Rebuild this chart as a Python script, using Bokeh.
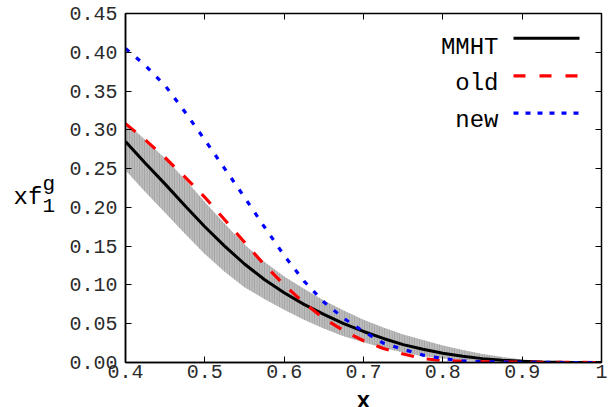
from bokeh.plotting import figure
from bokeh.layouts import row, column
from bokeh.models import Range1d, LinearAxis, FixedTicker, Label, ColumnDataSource
from bokeh.core.properties import value
from bokeh.embed import file_html
from bokeh.resources import INLINE

# ---------------- data ----------------
x_vals = [0.400, 0.425, 0.450, 0.475, 0.500, 0.525, 0.550, 0.575, 0.600, 0.625,
          0.650, 0.675, 0.700, 0.725, 0.750, 0.775, 0.800, 0.825, 0.850, 0.875,
          0.900, 0.925, 0.950, 0.975, 1.000]
mmht = [0.285, 0.257, 0.230, 0.202, 0.175, 0.150, 0.127, 0.107, 0.090, 0.075,
        0.062, 0.050, 0.040, 0.031, 0.023, 0.017, 0.012, 0.008, 0.005, 0.003,
        0.0015, 0.0007, 0.0003, 0.0001, 0.0]
mmht_hi = [0.310, 0.287, 0.263, 0.236, 0.207, 0.179, 0.152, 0.130, 0.111, 0.095,
           0.080, 0.067, 0.055, 0.045, 0.036, 0.029, 0.022, 0.016, 0.011, 0.007,
           0.004, 0.002, 0.001, 0.0003, 0.0]
mmht_lo = [0.248, 0.220, 0.193, 0.166, 0.140, 0.117, 0.097, 0.082, 0.068, 0.055,
           0.044, 0.034, 0.026, 0.019, 0.013, 0.008, 0.005, 0.003, 0.0015, 0.0008,
           0.0003, 0.0001, 0.0, 0.0, 0.0]
old = [0.308, 0.287, 0.264, 0.239, 0.213, 0.184, 0.155, 0.126, 0.100, 0.077,
       0.057, 0.041, 0.028, 0.018, 0.011, 0.005, 0.0025, 0.0015, 0.001, 0.0007,
       0.0005, 0.0003, 0.0002, 0.0001, 0.0]
new = [0.405, 0.383, 0.357, 0.323, 0.287, 0.250, 0.213, 0.175, 0.138, 0.105,
       0.078, 0.057, 0.040, 0.025, 0.017, 0.0095, 0.005, 0.002, 0.001, 0.0005,
       0.0002, 0.0001, 0.0, 0.0, 0.0]

series_names = ["MMHT", "old", "new"]
x_ticks = [0.4, 0.5, 0.6, 0.7, 0.8, 0.9, 1.0]
x_tick_labels = ["0.4", "0.5", "0.6", "0.7", "0.8", "0.9", "1"]
y_ticks = [0.0, 0.05, 0.10, 0.15, 0.20, 0.25, 0.30, 0.35, 0.40, 0.45]
y_tick_labels = ["0.00", "0.05", "0.10", "0.15", "0.20", "0.25", "0.30", "0.35", "0.40", "0.45"]
x_title = "x"
y_title_main, y_title_sup, y_title_sub = "xf", "g", "1"

# ---------------- layout ----------------
W, H = 611, 407
LW = 60                      # width of the left strip carrying the y title
BH = 18                      # height of the bottom strip carrying the x title
L, R, T, B = 125, 10, 13, 45  # frame borders in page pixels
X0, X1, Y0, Y1 = 0.4, 1.0, 0.0, 0.45
FW, FH = W - L - R, H - T - B
FONT = "Liberation Mono"


def px2x(px):
    return X0 + (px - L) / FW * (X1 - X0)


def py2y(py):
    return Y1 - (py - T) / FH * (Y1 - Y0)


p = figure(width=W - LW, height=H - BH, output_backend="svg", toolbar_location=None,
           x_range=Range1d(X0, X1), y_range=Range1d(Y0, Y1),
           min_border_left=L - LW, min_border_right=R, min_border_top=T,
           min_border_bottom=B - BH)
p.background_fill_color = "white"
p.border_fill_color = "white"
p.grid.visible = False
p.outline_line_color = "black"
p.outline_line_width = 1.5

for ax in (p.xaxis[0], p.yaxis[0]):
    ax.axis_line_color = "black"
    ax.axis_line_width = 1.5
    ax.major_tick_in = 6
    ax.major_tick_out = 0
    ax.minor_tick_line_color = None
    ax.major_tick_line_color = "black"
    ax.major_tick_line_width = 1
    ax.major_label_text_font = FONT
    ax.major_label_text_font_size = "20px"
    ax.major_label_text_color = "#2a2a2a"

p.xaxis.ticker = FixedTicker(ticks=x_ticks)
p.xaxis.major_label_overrides = {t: s for t, s in zip(x_ticks, x_tick_labels)}
p.xaxis.major_label_standoff = 2
p.yaxis.ticker = FixedTicker(ticks=y_ticks)
p.yaxis.major_label_overrides = {t: s for t, s in zip(y_ticks, y_tick_labels)}
p.yaxis.major_label_standoff = 8

# mirrored ticks on top / right (no labels)
for side, ticks in (("right", y_ticks), ("above", x_ticks)):
    ax = LinearAxis(ticker=FixedTicker(ticks=ticks), major_tick_in=6, major_tick_out=0,
                    minor_tick_line_color=None, axis_line_color=None,
                    major_label_text_color=None, major_label_text_font_size="0px",
                    major_label_standoff=0)
    p.add_layout(ax, side)

src = ColumnDataSource(dict(x=x_vals, mmht=mmht, lo=mmht_lo, hi=mmht_hi, old=old, new=new))

p.varea(x="x", y1="lo", y2="hi", source=src, fill_color="#bdbdbd",
        hatch_pattern="vertical_line", hatch_color="#a0a0a0", hatch_scale=2.5, hatch_weight=1)
p.line(x="x", y="mmht", source=src, line_color="black", line_width=3)
p.line(x="x", y="old", source=src, line_color="#ff0000", line_width=3.2, line_dash="13 13")
p.line(x="x", y="new", source=src, line_color="#0000ff", line_width=3.2, line_dash="5 9")

# legend (manual: label left, sample right)
leg_styles = [dict(line_color="black", line_width=3),
              dict(line_color="#ff0000", line_width=3.2, line_dash="12 14"),
              dict(line_color="#0000ff", line_width=3.2, line_dash="5 7")]
leg_line_py = [37.7, 75.3, 112.7]
leg_text_py = [47, 83, 120]
for name, st, lpy, tpy in zip(series_names, leg_styles, leg_line_py, leg_text_py):
    p.line(x=[px2x(513), px2x(579)], y=[py2y(lpy), py2y(lpy)], **st)
    p.add_layout(Label(x=px2x(498), y=py2y(tpy), text=name, text_align="right",
                       text_baseline="alphabetic", text_font=FONT, text_font_size="24px",
                       text_color="black"))


def strip(w, h, xr):
    f = figure(width=w, height=h, output_backend="svg", toolbar_location=None,
               x_range=xr, y_range=Range1d(0, h),
               x_axis_type=None, y_axis_type=None,
               min_border_left=0, min_border_right=0, min_border_top=0, min_border_bottom=0)
    f.grid.visible = False
    f.outline_line_color = None
    f.background_fill_color = "white"
    f.border_fill_color = "white"
    return f


# left strip: y title xf with sub/superscript
q = strip(LW, H, Range1d(0, LW))
q.text(x=[13], y=[H - 197], text=[y_title_main], text_font=value(FONT),
       text_font_size="24px", text_align="left", text_baseline="alphabetic", text_color="black")
q.text(x=[42], y=[H - 184], text=[y_title_sup], text_font=value(FONT),
       text_font_size="21px", text_align="left", text_baseline="alphabetic", text_color="black")
q.text(x=[42], y=[H - 205], text=[y_title_sub], text_font=value(FONT),
       text_font_size="21px", text_align="left", text_baseline="alphabetic", text_color="black")

# bottom strip: x title, centred under the x axis (frames of a column are aligned)
s = strip(W - LW, BH, p.x_range)
s.text(x=[(X0 + X1) / 2], y=[H - 401], text=[x_title], text_font=value(FONT),
       text_font_size="23px", text_font_style="bold", text_align="center",
       text_baseline="alphabetic", text_color="black")

layout = row(q, column(p, s, spacing=0), spacing=0)
open("out.html", "w").write(file_html(layout, INLINE))
